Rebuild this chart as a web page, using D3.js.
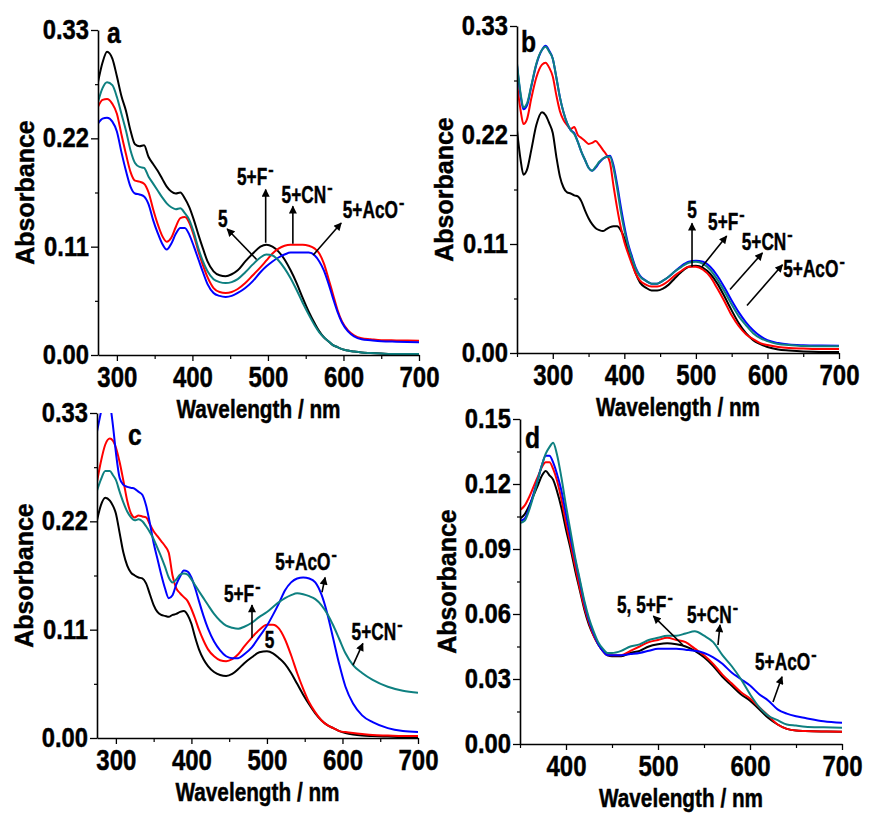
<!DOCTYPE html>
<html lang="en">
<head>
    <meta charset="UTF-8">
    <title>Absorption spectra of 5 with anions</title>
    <script src="https://cdnjs.cloudflare.com/ajax/libs/d3/7.8.5/d3.min.js"></script>
    <style>
        body { margin: 0; background: #fff; }
        svg text { font-family: 'Liberation Sans', Arial, sans-serif; font-weight: bold; fill: #000; stroke: #000; stroke-width: 0.45px; }
    </style>
</head>
<body>
    <div id="wrapper"></div>
    <script>
        // ---- data (wavelength in nm, absorbance) ----
        const A_WL = [275, 281, 287, 294, 300, 306, 312, 318, 324, 330, 336, 342, 348, 354, 360, 366, 372, 378, 384, 390, 396, 402, 408, 414, 420, 428, 436, 444, 452, 460, 470, 480, 490, 498, 506, 514, 522, 530, 538, 546, 554, 562, 568, 574, 580, 586, 592, 598, 606, 614, 624, 636, 650, 670, 700]
        const A_BLACK = [.277, .297, .308, .301, .283, .263, .248, .228, .214, .212, .213, .201, .194, .187, .179, .171, .166, .164, .165, .159, .150, .137, .122, .108, .095, .085, .081, .080, .082, .086, .095, .103, .110, .112, .110, .105, .097, .086, .073, .058, .044, .032, .024, .018, .014, .010, .008, .006, .0045, .0035, .0025, .002, .0015, .001, .001]
        const A_RED = [.252, .259, .260, .255, .245, .224, .204, .186, .177, .176, .174, .165, .148, .133, .121, .115, .119, .130, .139, .140, .134, .121, .105, .091, .079, .068, .064, .063, .064, .067, .073, .081, .089, .096, .103, .108, .111, .112, .112, .112, .111, .108, .103, .093, .078, .062, .046, .034, .025, .020, .017, .016, .015, .0148, .0145]
        const A_BLUE = [.235, .240, .241, .237, .227, .206, .187, .171, .164, .163, .161, .153, .137, .124, .113, .107, .113, .123, .129, .129, .122, .110, .097, .084, .072, .063, .060, .059, .060, .063, .068, .075, .084, .090, .095, .099, .102, .104, .104, .104, .104, .101, .095, .086, .073, .058, .044, .033, .024, .019, .016, .015, .014, .0135, .013]
        const A_TEAL = [.257, .271, .277, .274, .262, .245, .228, .208, .195, .191, .190, .181, .174, .167, .160, .154, .150, .148, .149, .144, .137, .124, .108, .095, .085, .077, .074, .073, .074, .077, .084, .092, .099, .102, .101, .096, .088, .078, .066, .053, .041, .030, .023, .018, .014, .010, .008, .006, .0045, .0035, .0025, .002, .0015, .001, .001]

        const B_WL = [250, 255, 259, 264, 270, 277, 285, 290, 295, 300, 305, 310, 315, 320, 325, 330, 335, 340, 345, 350, 355, 360, 365, 370, 375, 380, 385, 390, 395, 400, 405, 410, 416, 422, 430, 438, 446, 454, 462, 470, 480, 490, 500, 510, 520, 530, 540, 550, 560, 570, 580, 590, 600, 615, 630, 650, 675, 700]
        const B_BLACK = [.225, .195, .180, .185, .205, .230, .243, .240, .232, .222, .198, .178, .167, .162, .161, .159, .158, .153, .144, .136, .130, .126, .124, .123, .125, .127, .128, .128, .124, .116, .105, .093, .080, .071, .066, .063, .063, .065, .069, .075, .082, .087, .088, .086, .080, .070, .057, .043, .030, .020, .013, .009, .006, .0035, .0025, .0015, .001, .001]
        const B_RED = [.272, .245, .231, .236, .257, .278, .291, .293, .288, .279, .260, .244, .235, .230, .226, .228, .220, .217, .214, .211, .212, .214, .210, .205, .200, .192, .168, .146, .127, .112, .101, .091, .080, .073, .069, .067, .067, .069, .073, .078, .083, .087, .087, .084, .077, .065, .052, .038, .027, .019, .014, .010, .008, .006, .005, .0045, .004, .004]
        const B_BLUE = [.290, .260, .246, .250, .269, .291, .306, .310, .305, .297, .278, .258, .243, .232, .225, .222, .213, .203, .195, .187, .184, .187, .192, .196, .198, .199, .189, .170, .148, .128, .111, .099, .086, .078, .073, .070, .070, .073, .077, .082, .088, .092, .093, .092, .087, .078, .066, .053, .041, .031, .023, .017, .013, .010, .0085, .0078, .0075, .0074]
        const B_TEAL = [.292, .262, .248, .252, .270, .292, .306, .309, .304, .297, .278, .258, .243, .232, .225, .221, .213, .203, .195, .187, .184, .188, .193, .196, .198, .198, .186, .166, .143, .124, .109, .097, .085, .077, .073, .070, .070, .073, .077, .082, .087, .091, .092, .090, .084, .074, .062, .049, .037, .028, .020, .015, .012, .009, .008, .007, .0068, .0067]

        const C_WL = [275, 280, 286, 292, 296, 300, 305, 310, 315, 320, 325, 330, 335, 340, 345, 350, 355, 360, 365, 370, 375, 380, 385, 390, 395, 400, 405, 410, 416, 422, 430, 438, 446, 454, 462, 470, 480, 490, 500, 508, 516, 524, 532, 540, 548, 556, 564, 572, 580, 588, 596, 604, 614, 626, 640, 660, 680, 700]
        const C_BLACK = [.221, .236, .244, .241, .236, .228, .208, .188, .175, .168, .165, .163, .162, .157, .146, .135, .128, .125, .124, .123, .125, .126, .128, .129, .125, .116, .102, .090, .080, .073, .067, .064, .063, .065, .070, .076, .082, .087, .088, .086, .081, .075, .066, .055, .044, .034, .025, .018, .013, .010, .007, .005, .0035, .0025, .002, .0015, .001, .001]
        const C_RED = [.260, .280, .298, .304, .302, .295, .280, .261, .241, .228, .224, .226, .225, .224, .217, .210, .205, .200, .195, .188, .165, .152, .147, .143, .139, .131, .121, .110, .099, .090, .083, .079, .078, .080, .085, .093, .102, .110, .115, .115, .111, .100, .084, .066, .050, .036, .026, .018, .013, .010, .007, .006, .005, .004, .003, .0025, .002, .002]
        const C_BLUE = [.311, .330, .350, .340, .318, .290, .264, .257, .255, .254, .253, .250, .247, .236, .218, .198, .182, .166, .152, .142, .145, .156, .164, .170, .169, .163, .152, .139, .124, .111, .098, .089, .083, .081, .081, .085, .092, .103, .114, .125, .137, .150, .158, .162, .163, .162, .158, .146, .126, .100, .074, .052, .035, .023, .016, .010, .007, .006]
        const C_TEAL = [.251, .262, .271, .271, .267, .262, .250, .239, .230, .224, .221, .222, .220, .215, .209, .202, .193, .184, .174, .163, .158, .161, .166, .167, .166, .161, .155, .149, .142, .135, .126, .119, .114, .112, .111, .113, .117, .123, .128, .133, .138, .142, .145, .147, .146, .144, .141, .135, .126, .114, .100, .086, .074, .066, .059, .052, .048, .046]

        const D_WL = [350, 355, 360, 365, 370, 374, 378, 382, 386, 390, 395, 400, 405, 410, 415, 420, 425, 430, 435, 440, 445, 450, 460, 470, 480, 490, 500, 510, 520, 530, 540, 550, 560, 570, 580, 590, 600, 610, 620, 630, 640, 650, 660, 680, 700]
        const D_BLACK = [.104, .106, .110, .115, .120, .124, .126, .124, .122, .117, .109, .099, .090, .080, .071, .062, .055, .050, .046, .043, .041, .0405, .0405, .042, .043, .045, .046, .0465, .046, .045, .043, .040, .036, .031, .027, .023, .020, .016, .012, .009, .007, .0062, .006, .0058, .0057]
        const D_RED = [.108, .110, .114, .119, .124, .128, .130, .130, .127, .122, .113, .102, .092, .082, .072, .063, .056, .050, .046, .043, .041, .041, .041, .043, .045, .047, .048, .049, .048, .047, .044, .041, .037, .032, .028, .024, .021, .017, .013, .009, .007, .0062, .006, .0058, .0057]
        const D_BLUE = [.103, .104, .109, .116, .123, .129, .133, .133, .130, .125, .117, .106, .095, .085, .075, .065, .057, .051, .046, .043, .041, .041, .041, .0415, .042, .043, .044, .044, .044, .0435, .043, .042, .040, .037, .033, .030, .027, .023, .020, .016, .014, .0128, .012, .0105, .0098]
        const D_TEAL = [.102, .103, .108, .115, .123, .129, .134, .137, .139, .134, .123, .110, .098, .086, .076, .066, .058, .052, .047, .044, .042, .042, .043, .045, .046, .048, .049, .050, .050, .051, .052, .050, .047, .041, .036, .030, .023, .017, .013, .011, .009, .0085, .008, .0077, .0075]

        const X_TICKS = [300, 400, 500, 600, 700]
        const X_MINOR = [250, 350, 450, 550, 650]
        const Y_TICKS_ABC = [0, 0.11, 0.22, 0.33]
        const Y_TICKS_D = [0, 0.03, 0.06, 0.09, 0.12, 0.15]

        const seriesColors = { black: '#000000', red: '#ff0000', blue: '#0000ff', teal: '#0e8080' }

        // panel annotations: anchor and arrow in data units
        const A_NOTES = [
            { text: '5', sup: '', at: [434, 0.130], from: [485, 0.097], to: [446, 0.128] },
            { text: '5+F', sup: '-', at: [459, 0.1726], from: [497, 0.114], to: [497, 0.168] },
            { text: '5+CN', sup: '-', at: [518, 0.1543], from: [533, 0.113], to: [533, 0.151] },
            { text: '5+AcO', sup: '-', at: [599, 0.1391], from: [560, 0.1015], to: [597, 0.134] }
        ]
        const B_NOTES = [
            { text: '5', sup: '', at: [488, 0.136], from: [494.6, 0.087], to: [494.6, 0.131] },
            { text: '5+F', sup: '-', at: [517, 0.124], from: [508.5, 0.087], to: [543, 0.118] },
            { text: '5+CN', sup: '-', at: [564, 0.104], from: [547.7, 0.064], to: [593, 0.101] },
            { text: '5+AcO', sup: '-', at: [622, 0.0767], from: [571.4, 0.048], to: [621, 0.089] }
        ]
        const C_NOTES = [
            { text: '5+AcO', sup: '-', at: [511, 0.1706], from: [572.9, 0.148], to: [577, 0.163] },
            { text: '5+F', sup: '-', at: [443, 0.138], from: [480.2, 0.1015], to: [480.2, 0.135] },
            { text: '5', sup: '', at: [497, 0.0914] },
            { text: '5+CN', sup: '-', at: [612, 0.0995], from: [614, 0.074], to: [627, 0.096] }
        ]
        const D_NOTES = [
            { text: '5, 5+F', sup: '-', at: [455.4, 0.0605], from: [527, 0.0457], to: [495, 0.059] },
            { text: '5+CN', sup: '-', at: [531.5, 0.0558], from: [565.2, 0.0457], to: [567.4, 0.055] },
            { text: '5+AcO', sup: '-', at: [605.4, 0.0342], from: [625, 0.0194], to: [634.8, 0.031] }
        ]

        const panels = [
            { letter: 'a', wl: A_WL, series: { black: A_BLACK, red: A_RED, blue: A_BLUE, teal: A_TEAL }, notes: A_NOTES,
              left: 98, right: 419, top: 30, bottom: 355, xDomain: [275, 700], yDomain: [0, 0.33], yTicks: Y_TICKS_ABC, letterPos: [9, 13] },
            { letter: 'b', wl: B_WL, series: { black: B_BLACK, red: B_RED, blue: B_BLUE, teal: B_TEAL }, notes: B_NOTES,
              left: 517, right: 839, top: 26, bottom: 353, xDomain: [250, 700], yDomain: [0, 0.33], yTicks: Y_TICKS_ABC, letterPos: [4, 26] },
            { letter: 'c', wl: C_WL, series: { black: C_BLACK, red: C_RED, blue: C_BLUE, teal: C_TEAL }, notes: C_NOTES,
              left: 97, right: 418, top: 413, bottom: 738, xDomain: [275, 700], yDomain: [0, 0.33], yTicks: Y_TICKS_ABC, letterPos: [31, 32] },
            { letter: 'd', wl: D_WL, series: { black: D_BLACK, red: D_RED, blue: D_BLUE, teal: D_TEAL }, notes: D_NOTES,
              left: 520, right: 842, top: 419, bottom: 744, xDomain: [350, 700], yDomain: [0, 0.15], yTicks: Y_TICKS_D, letterPos: [5, 29] }
        ]

        // squeeze text horizontally (the original uses a condensed face):
        // move x/y into a transform and scale only the width
        const condense = (sel, ratio) => sel.each(function() {
            const t = d3.select(this)
            const x = +t.attr('x') || 0
            const y = +t.attr('y') || 0
            t.attr('x', 0).attr('y', 0)
                .attr('transform', `translate(${x},${y}) scale(${ratio},1)`)
        })

        function drawFigure() {
            const width = 869
            const height = 814

            const svg = d3.select('#wrapper')
                .append('svg')
                    .attr('width', width)
                    .attr('height', height)

            const defs = svg.append('defs')
            defs.append('marker')
                .attr('id', 'arrow')
                .attr('viewBox', '0 -5 10 10')
                .attr('refX', 9)
                .attr('refY', 0)
                .attr('markerUnits', 'userSpaceOnUse')
                .attr('markerWidth', 9)
                .attr('markerHeight', 8)
                .attr('orient', 'auto')
                .append('path')
                    .attr('d', 'M0,-5L10,0L0,5Z')
                    .attr('fill', '#000')

            panels.forEach((p, pi) => {
                const inX = v => v >= p.xDomain[0] && v <= p.xDomain[1]
                const xScale = d3.scaleLinear().domain(p.xDomain).range([p.left, p.right])
                const yScale = d3.scaleLinear().domain(p.yDomain).range([p.bottom, p.top])

                const g = svg.append('g')

                // clip curves to the plot box
                defs.append('clipPath')
                    .attr('id', `clip-${pi}`)
                    .append('rect')
                        .attr('x', p.left)
                        .attr('y', p.top)
                        .attr('width', p.right - p.left)
                        .attr('height', p.bottom - p.top)

                const line = d3.line()
                    .x(d => xScale(d[0]))
                    .y(d => yScale(d[1]))
                    .curve(d3.curveMonotoneX)

                const lines = g.append('g').attr('clip-path', `url(#clip-${pi})`)
                ;['black', 'red', 'blue', 'teal'].forEach(key => {
                    const pts = p.wl.map((w, i) => [w, p.series[key][i]])
                    lines.append('path')
                        .datum(pts)
                        .attr('d', line)
                        .attr('fill', 'none')
                        .attr('stroke', seriesColors[key])
                        .attr('stroke-width', 2)
                        .attr('stroke-linejoin', 'round')
                })

                // x axis
                const xAxis = g.append('g')
                    .attr('transform', `translate(0,${p.bottom})`)
                    .call(d3.axisBottom(xScale).tickValues(X_TICKS.filter(inX)).tickSize(6).tickPadding(5).tickSizeOuter(0))
                xAxis.select('.domain').attr('stroke-width', 1.6)
                xAxis.selectAll('.tick line').attr('stroke-width', 1.3)
                xAxis.selectAll('.tick text').attr('font-size', 30).attr('font-family', null)
                condense(xAxis.selectAll('.tick text'), 0.8)

                g.append('g')
                    .attr('transform', `translate(0,${p.bottom})`)
                    .call(d3.axisBottom(xScale)
                        .tickValues(X_MINOR.filter(inX))
                        .tickSize(4).tickFormat('').tickSizeOuter(0))
                    .call(s => s.select('.domain').remove())
                    .selectAll('.tick line').attr('stroke-width', 1.2)

                // y axis
                const step = p.yTicks[1] - p.yTicks[0]
                const yMinor = p.yTicks.slice(1).map(v => v - step / 2)
                const yAxis = g.append('g')
                    .attr('transform', `translate(${p.left},0)`)
                    .call(d3.axisLeft(yScale).tickValues(p.yTicks).tickFormat(d3.format('.2f')).tickSize(7).tickPadding(2).tickSizeOuter(0))
                yAxis.select('.domain').attr('stroke-width', 1.6)
                yAxis.selectAll('.tick line').attr('stroke-width', 1.3)
                yAxis.selectAll('.tick text').attr('font-size', 27).attr('font-family', null)
                condense(yAxis.selectAll('.tick text'), 0.88)

                g.append('g')
                    .attr('transform', `translate(${p.left},0)`)
                    .call(d3.axisLeft(yScale).tickValues(yMinor).tickSize(3).tickFormat('').tickSizeOuter(0))
                    .call(s => s.select('.domain').remove())
                    .selectAll('.tick line').attr('stroke-width', 1.2)

                // axis titles
                g.append('text')
                    .attr('transform', `translate(${p.left - 64},${(p.top + p.bottom) / 2}) rotate(-90)`)
                    .attr('text-anchor', 'middle')
                    .attr('font-size', 25)
                    .text('Absorbance')

                const xTitle = g.append('text')
                    .attr('x', (p.left + p.right) / 2)
                    .attr('y', p.bottom + 63)
                    .attr('text-anchor', 'middle')
                    .attr('font-size', 25)
                    .text('Wavelength / nm')
                condense(xTitle, 0.83)

                // panel letter
                const letter = g.append('text')
                    .attr('x', p.left + p.letterPos[0])
                    .attr('y', p.top + p.letterPos[1])
                    .attr('font-size', 29)
                    .text(p.letter)
                condense(letter, 0.85)

                // annotations with arrows
                p.notes.forEach(n => {
                    if (n.from) {
                        g.append('line')
                            .attr('x1', xScale(n.from[0]))
                            .attr('y1', yScale(n.from[1]))
                            .attr('x2', xScale(n.to[0]))
                            .attr('y2', yScale(n.to[1]))
                            .attr('stroke', '#000')
                            .attr('stroke-width', 1.6)
                            .attr('marker-end', 'url(#arrow)')
                    }
                    const tx = xScale(n.at[0])
                    const ty = yScale(n.at[1])
                    const ratio = 0.72
                    const t = g.append('text')
                        .attr('x', tx)
                        .attr('y', ty)
                        .attr('font-size', 24)
                        .text(n.text)
                    const w = t.node().getComputedTextLength() * ratio
                    condense(t, ratio)
                    if (n.sup) {
                        g.append('text')
                            .attr('x', tx + w + 1)
                            .attr('y', ty - 10)
                            .attr('font-size', 16)
                            .text(n.sup)
                    }
                })
            })
        }

        drawFigure()
    </script>
</body>
</html>
